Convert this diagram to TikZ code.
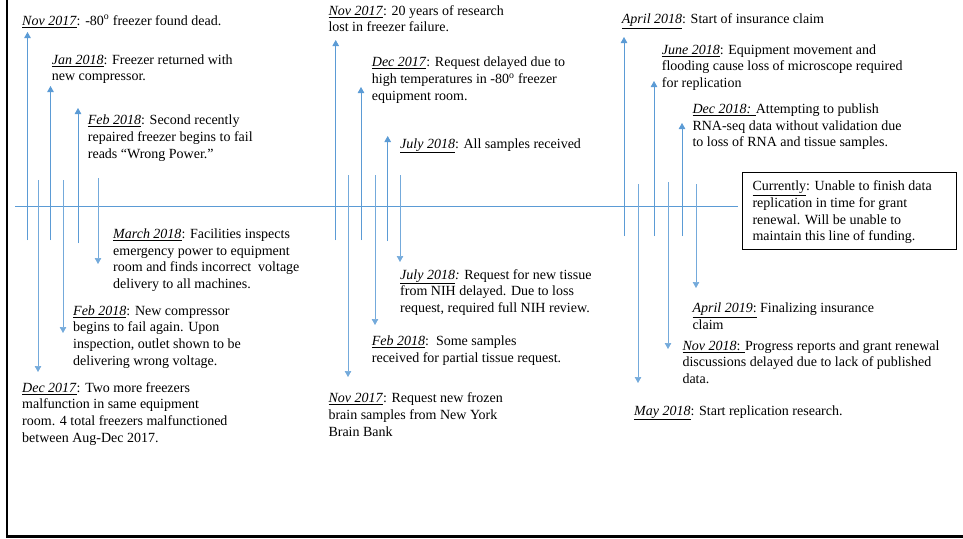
\documentclass[tikz,border=0pt]{standalone}
\usepackage{fontspec}
\setmainfont{Liberation Serif}
\usetikzlibrary{arrows.meta}
\definecolor{tlblue}{HTML}{5B9BD5}
\newcommand{\dt}[1]{\underline{\textit{#1}}}
\tikzset{
  ev/.style={anchor=north west, inner sep=0pt, align=left, font=\fontsize{14}{16.7}\selectfont},
  uparrow/.style={draw=tlblue, line width=0.9pt, -{Triangle[width=6.5pt,length=6pt]}},
  downarrow/.style={draw=tlblue!85, line width=0.7pt, -{Triangle[width=6.5pt,length=6pt]}},
  axisline/.style={draw=tlblue, line width=1pt},
  framerule/.style={draw=black, line width=2.2pt},
  notebox/.style={draw=black, line width=0.9pt}
}
\begin{document}
\begin{tikzpicture}[x=1pt,y=-1pt]
\useasboundingbox (0,0) rectangle (963,538);
% frame
\coordinate (fTop) at (7,0);
\coordinate (fCorner) at (7,536.5);
\coordinate (fRight) at (963,536.5);
\draw[framerule] (fTop) -- (fCorner) -- (fRight);
% axis
\coordinate (axL) at (15,206);
\coordinate (axR) at (738,206);
\draw[axisline] (axL) -- (axR);
% note box
\node[notebox, minimum width=214pt, minimum height=77pt, anchor=north west, inner sep=0pt] (box) at (742,172) {};
\node[ev] (t16) at (752.3,179) {\strut\underline{Currently}: Unable to finish data\\replication in time for grant\\renewal. Will be unable to\\maintain this line of funding.};

% group 1 texts
\node[ev] (t1) at (22,13.3) {\strut\dt{Nov 2017}: -80\textsuperscript{o} freezer found dead.};
\node[ev] (t2) at (51.7,52.3) {\strut\dt{Jan 2018}: Freezer returned with\\new compressor.};
\node[ev] (t3) at (87.7,112.8) {\strut\dt{Feb 2018}: Second recently\\repaired freezer begins to fail\\reads “Wrong Power.”};
\node[ev] (t4) at (113,226.6) {\strut\dt{March 2018}: Facilities inspects\\emergency power to equipment\\room and finds incorrect\ \ voltage\\delivery to all machines.};
\node[ev] (t5) at (73,303.3) {\strut\dt{Feb 2018}: New compressor\\begins to fail again. Upon\\inspection, outlet shown to be\\delivering wrong voltage.};
\node[ev] (t6) at (22,380.3) {\strut\dt{Dec 2017}: Two more freezers\\malfunction in same equipment\\room. 4 total freezers malfunctioned\\between Aug-Dec 2017.};

% group 2 texts
\node[ev] (t7) at (328.3,3.3) {\strut\dt{Nov 2017}: 20 years of research\\lost in freezer failure.};
\node[ev] (t8) at (371.7,55) {\strut\dt{Dec 2017}: Request delayed due to\\high temperatures in -80\textsuperscript{o} freezer\\equipment room.};
\node[ev] (t9) at (400,136.3) {\strut\dt{July 2018}: All samples received};
\node[ev] (t10) at (400,267.3) {\strut\dt{July 2018}\textit{:} Request for new tissue\\from NIH delayed. Due to loss\\request, required full NIH review.};
\node[ev] (t11) at (371.7,334) {\strut\dt{Feb 2018}:\ \ Some samples\\received for partial tissue request.};
\node[ev] (t12) at (328.3,391) {\strut\dt{Nov 2017}: Request new frozen\\brain samples from New York\\Brain Bank};

% group 3 texts
\node[ev] (t13) at (621.7,11.6) {\strut\dt{April 2018}: Start of insurance claim};
\node[ev] (t14) at (661.7,42.3) {\strut\dt{June 2018}: Equipment movement and\\flooding cause loss of microscope required\\for replication};
\node[ev] (t15) at (692.3,101.6) {\strut\underline{\textit{Dec 2018:} }Attempting to publish\\RNA-seq data without validation due\\to loss of RNA and tissue samples.};
\node[ev] (t17) at (692.3,300.6) {\strut\underline{\textit{April 2019}:} Finalizing insurance\\claim};
\node[ev] (t18) at (682.3,338.3) {\strut\underline{\textit{Nov 2018}: }Progress reports and grant renewal\\discussions delayed due to lack of published\\data.};
\node[ev] (t19) at (634,403.3) {\strut\dt{May 2018}: Start replication research.};

% arrow end coordinates, group 1
\coordinate (a1s) at (27.5,240);  \coordinate (a1e) at (27.5,32);
\coordinate (a2s) at (50.5,240);  \coordinate (a2e) at (50.5,86);
\coordinate (a3s) at (78,243);    \coordinate (a3e) at (78,108);
\coordinate (d1s) at (38,180);    \coordinate (d1e) at (38,372);
\coordinate (d2s) at (63,180);    \coordinate (d2e) at (63,333);
\coordinate (d3s) at (98,178);    \coordinate (d3e) at (98,264);
% group 2
\coordinate (a4s) at (335.7,240); \coordinate (a4e) at (335.7,40);
\coordinate (a5s) at (361,240);   \coordinate (a5e) at (361,87);
\coordinate (a6s) at (387.7,241); \coordinate (a6e) at (387.7,136);
\coordinate (d4s) at (348,175);   \coordinate (d4e) at (348,377);
\coordinate (d5s) at (375,175);   \coordinate (d5e) at (375,325);
\coordinate (d6s) at (400,175);   \coordinate (d6e) at (400,262);
% group 3
\coordinate (a7s) at (624,236);   \coordinate (a7e) at (624,37);
\coordinate (a8s) at (654,236);   \coordinate (a8e) at (654,81);
\coordinate (a9s) at (682,236);   \coordinate (a9e) at (682,123);
\coordinate (d7s) at (638,184);   \coordinate (d7e) at (638,383);
\coordinate (d8s) at (668,182);   \coordinate (d8e) at (668,349);
\coordinate (d9s) at (696,184);   \coordinate (d9e) at (696,288);

\foreach \i in {1,...,9} {
  \draw[uparrow] (a\i s) -- (a\i e);
  \draw[downarrow] (d\i s) -- (d\i e);
}
\end{tikzpicture}
\end{document}
